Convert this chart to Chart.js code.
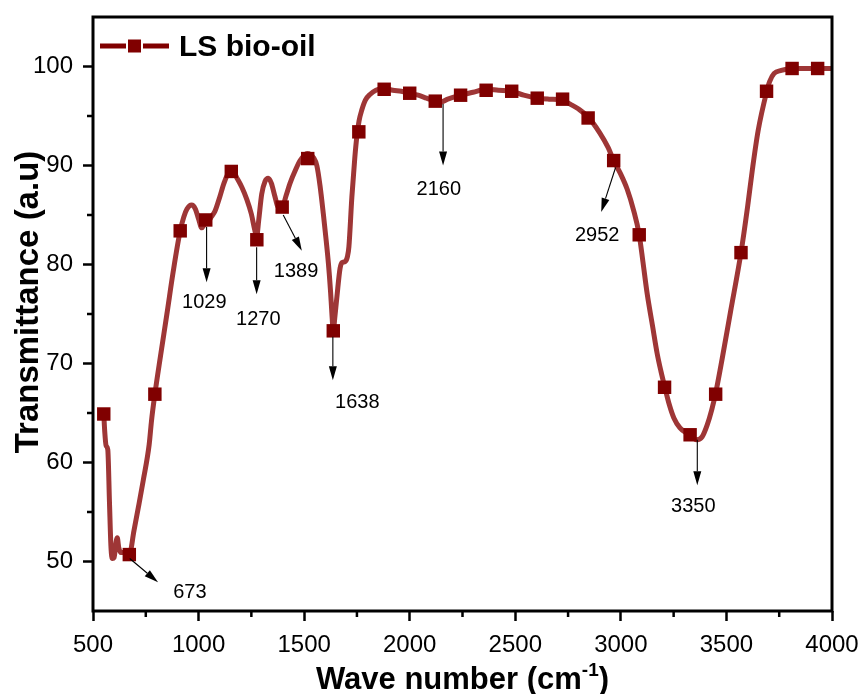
<!DOCTYPE html>
<html><head><meta charset="utf-8">
<script src="https://cdn.jsdelivr.net/npm/chart.js@4"></script>
<style>html,body{margin:0;padding:0;background:#fff}</style>
</head><body>
<canvas id="c" width="861" height="694"></canvas>
<script>
// ---- data ----
const wave = [551,556,562,570,578,585,592,600,608,615,622,632,650,672,694,716,738,766,777,793,820,850,880,913,930,945,967,985,1000,1015,1030,1045,1060,1078,1100,1120,1140,1157,1180,1205,1228,1250,1265,1275,1285,1299,1315,1330,1345,1360,1378,1396,1415,1433,1460,1481,1500,1514,1530,1544,1560,1575,1591,1605,1615,1625,1631,1638,1645,1655,1670,1680,1694,1705,1712,1726,1740,1750,1760,1773,1790,1813,1840,1879,1920,1960,2000,2040,2080,2121,2145,2180,2241,2300,2362,2420,2483,2540,2604,2660,2724,2760,2800,2845,2900,2940,2966,3000,3030,3060,3087,3105,3125,3150,3172,3190,3207,3230,3251,3280,3310,3330,3360,3385,3409,3430,3449,3480,3520,3569,3600,3623,3650,3690,3705,3726,3760,3811,3860,3932,4000];
const transmittance = [64.9,63.0,61.7,61.3,56.0,51.5,50.3,50.4,51.8,52.4,51.4,50.9,50.9,50.7,53.1,55.6,58.2,61.8,64.2,66.9,70.8,75.0,79.3,83.4,84.8,85.6,86.0,85.6,84.6,83.7,84.1,84.3,84.8,85.4,86.8,88.2,89.2,89.7,88.8,87.8,86.6,85.1,83.6,82.8,84.5,87.1,88.4,88.7,88.2,87.0,85.8,85.8,87.0,88.2,89.6,90.5,91.0,91.2,91.1,90.8,90.0,88.0,85.1,82.3,80.1,77.3,75.2,73.3,74.6,76.7,79.6,80.2,80.3,80.8,81.8,86.8,90.8,93.0,94.5,95.6,96.6,97.2,97.6,97.8,97.6,97.5,97.3,97.1,96.8,96.5,96.4,96.7,97.1,97.4,97.7,97.6,97.5,97.1,96.8,96.7,96.6,96.2,95.7,94.9,93.3,91.8,90.5,89.1,87.6,85.5,83.0,80.2,77.0,73.8,71.0,69.2,67.7,65.8,64.5,63.5,63.0,62.7,62.3,62.6,63.8,65.3,67.0,70.5,75.3,81.2,85.8,89.6,93.5,97.4,98.5,99.3,99.6,99.8,99.8,99.8,99.8];
const markerWave = [551,672,793,913,1034,1155,1276,1396,1517,1638,1759,1879,2000,2121,2241,2362,2483,2604,2724,2845,2966,3087,3207,3328,3449,3569,3690,3811,3932];
const markerT = [64.9,50.7,66.9,83.4,84.5,89.4,82.5,85.8,90.7,73.3,93.4,97.7,97.3,96.5,97.1,97.6,97.5,96.8,96.7,94.8,90.5,83.0,67.6,62.8,66.9,81.2,97.5,99.8,99.8];
const xTicks = [500,1000,1500,2000,2500,3000,3500,4000];
const yTicks = [50,60,70,80,90,100];
const xMinor = [750,1250,1750,2250,2750,3250,3750];
const yMinor = [55,65,75,85,95];
const seriesName = 'LS bio-oil';
const xTitle = 'Wave number (cm';
const xTitleSup = '-1';
const yTitle = 'Transmittance (a.u)';
// peak annotations (data units)
const peakLabels = ['673','1029','1270','1389','1638','2160','2952','3350'];
const arrowX0 = [674,1038,1275,1401,1636,2158,2975,3362];
const arrowY0 = [50.3,83.8,81.75,85.0,72.7,96.2,89.8,62.3];
const arrowX1 = [808,1038,1275,1489,1636,2158,2907,3362];
const arrowY1 = [47.9,78.2,77.0,81.4,68.3,90.0,85.3,57.7];
const labelX = [959,1027,1283,1462,1752,2138,2888,3343];
const labelY = [46.9,76.2,74.4,79.3,66.1,87.6,82.9,55.6];

const FF = "'Liberation Sans', Arial, sans-serif";
const LINE_COLOR = '#9e3636';
const MARK_COLOR = '#800000';

const extras = {
  id: 'extras',
  afterDatasetsDraw(chart) {
    const ctx = chart.ctx, xs = chart.scales.x, ys = chart.scales.y, a = chart.chartArea;
    ctx.save();
    // annotations
    ctx.strokeStyle = '#000'; ctx.fillStyle = '#000'; ctx.lineWidth = 1.1;
    for (let i = 0; i < peakLabels.length; i++) {
      const x0 = xs.getPixelForValue(arrowX0[i]), y0 = ys.getPixelForValue(arrowY0[i]);
      const x1 = xs.getPixelForValue(arrowX1[i]), y1 = ys.getPixelForValue(arrowY1[i]);
      const ang = Math.atan2(y1 - y0, x1 - x0), L = 14, W = 4;
      const bx = x1 - L * Math.cos(ang), by = y1 - L * Math.sin(ang);
      ctx.beginPath(); ctx.moveTo(x0, y0); ctx.lineTo(bx, by); ctx.stroke();
      ctx.beginPath(); ctx.moveTo(x1, y1);
      ctx.lineTo(bx + W * Math.sin(ang), by - W * Math.cos(ang));
      ctx.lineTo(bx - W * Math.sin(ang), by + W * Math.cos(ang));
      ctx.closePath(); ctx.fill();
      ctx.font = '20px ' + FF; ctx.textAlign = 'center'; ctx.textBaseline = 'middle';
      ctx.fillText(peakLabels[i], xs.getPixelForValue(labelX[i]), ys.getPixelForValue(labelY[i]));
    }
    // frame
    ctx.lineWidth = 3; ctx.strokeStyle = '#000';
    ctx.strokeRect(a.left, a.top, a.right - a.left, a.bottom - a.top);
    // minor ticks
    ctx.lineWidth = 2.5;
    ctx.beginPath();
    xMinor.forEach(v => { const p = xs.getPixelForValue(v); ctx.moveTo(p, a.bottom); ctx.lineTo(p, a.bottom + 6); });
    yMinor.forEach(v => { const p = ys.getPixelForValue(v); ctx.moveTo(a.left, p); ctx.lineTo(a.left - 6, p); });
    ctx.stroke();
    // legend
    const ly = 46;
    ctx.strokeStyle = MARK_COLOR; ctx.lineWidth = 5;
    ctx.beginPath(); ctx.moveTo(100, ly); ctx.lineTo(126, ly); ctx.moveTo(143, ly); ctx.lineTo(169, ly); ctx.stroke();
    ctx.fillStyle = MARK_COLOR; ctx.fillRect(128, ly - 6.5, 13, 13);
    ctx.fillStyle = '#000'; ctx.font = 'bold 30px ' + FF; ctx.textAlign = 'left'; ctx.textBaseline = 'alphabetic';
    ctx.fillText(seriesName, 179, 56);
    // x title with superscript
    const fMain = 'bold 31px ' + FF, fSup = 'bold 19px ' + FF;
    ctx.font = fMain; const w1 = ctx.measureText(xTitle).width, w3 = ctx.measureText(')').width;
    ctx.font = fSup; const w2 = ctx.measureText(xTitleSup).width;
    let sx = (a.left + a.right) / 2 - (w1 + w2 + w3) / 2, by = 689;
    ctx.font = fMain; ctx.fillText(xTitle, sx, by); sx += w1;
    ctx.font = fSup; ctx.fillText(xTitleSup, sx, by - 13); sx += w2;
    ctx.font = fMain; ctx.fillText(')', sx, by);
    // y title
    ctx.translate(38, 302); ctx.rotate(-Math.PI / 2);
    ctx.font = 'bold 33px ' + FF; ctx.textAlign = 'center';
    ctx.fillText(yTitle, 0, 0);
    ctx.restore();
  }
};

new Chart(document.getElementById('c'), {
  type: 'line',
  data: {
    datasets: [
      { label: seriesName, data: markerWave.map((x, i) => ({x, y: markerT[i]})), showLine: false,
        pointStyle: 'rect', pointRadius: 9.5, backgroundColor: MARK_COLOR, borderColor: MARK_COLOR, borderWidth: 0, order: 0 },
      { label: seriesName + ' line', data: wave.map((x, i) => ({x, y: transmittance[i]})), borderColor: LINE_COLOR,
        borderWidth: 5, pointRadius: 0, cubicInterpolationMode: 'monotone', fill: false, order: 1 }
    ]
  },
  options: {
    responsive: false, animation: false, devicePixelRatio: 1,
    layout: { padding: { top: 17, right: 29, left: 0, bottom: 0 } },
    plugins: { legend: { display: false }, tooltip: { enabled: false } },
    scales: {
      x: { type: 'linear', min: 500, max: 4000,
        afterBuildTicks: s => { s.ticks = xTicks.map(v => ({ value: v })); },
        afterFit: s => { s.height = 83; s.paddingLeft = 0; s.paddingRight = 0; },
        grid: { drawOnChartArea: false, tickLength: 10, tickWidth: 2.5, tickColor: '#000' },
        border: { display: false },
        ticks: { color: '#000', font: { family: FF, size: 24 }, padding: 10, maxRotation: 0, autoSkip: false,
          callback: v => String(v) } },
      y: { type: 'linear', min: 45, max: 105,
        afterBuildTicks: s => { s.ticks = yTicks.map(v => ({ value: v })); },
        afterFit: s => { s.width = 93; s.paddingTop = 0; s.paddingBottom = 0; },
        grid: { drawOnChartArea: false, tickLength: 10, tickWidth: 2.5, tickColor: '#000' },
        border: { display: false },
        ticks: { color: '#000', font: { family: FF, size: 24 }, padding: 10, autoSkip: false,
          callback: v => String(v) } }
    }
  },
  plugins: [extras]
});
</script>
</body></html>
